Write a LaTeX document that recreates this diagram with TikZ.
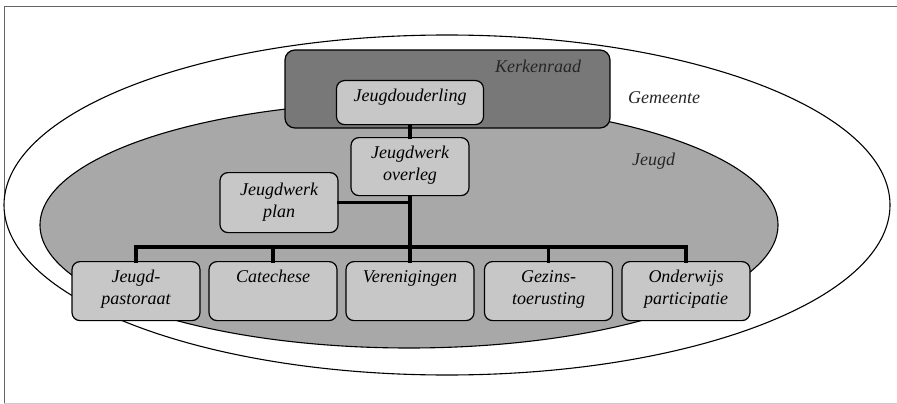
\documentclass[tikz,border=0pt]{standalone}
\usepackage{fontspec}
\setmainfont{Liberation Serif}
\definecolor{grisfonce}{gray}{0.47}
\definecolor{grismoyen}{gray}{0.66}
\definecolor{grisclair}{gray}{0.78}
\begin{document}
\begin{tikzpicture}[x=1pt,y=-1pt]
	\tikzstyle{boite}=[draw,line width=1.2pt,rounded corners=8pt,fill=grisclair,inner sep=0pt,align=center,anchor=north,font=\itshape\fontsize{18}{21.5}\selectfont,text height=21pt]
	\tikzstyle{trait}=[line width=3.2pt,line cap=rect]
	\tikzstyle{etiquette}=[font=\itshape\fontsize{18}{21}\selectfont,anchor=base west,inner sep=0pt,text=black!85]
	\def\LargeurBoite{128pt}
	\def\HautBus{247}
	\def\HautBas{261}
	\useasboundingbox (0,0) rectangle (897,404);
	\draw[gray!80!black] (897,6) -- (4,6) -- (4,403);
	\draw[gray!40] (4,403) -- (897,403);
	% ellipses
	\draw[line width=1.1pt,fill=white] (447,205) ellipse [x radius=443,y radius=170];
	\draw[line width=1.1pt,fill=grismoyen] (409,225) ellipse [x radius=369,y radius=123];
	\node[etiquette] (gemeente) at (628,103) {Gemeente};
	\node[etiquette] (jeugd) at (632,165) {Jeugd};
	% kerkenraad
	\node[draw,line width=1.2pt,rounded corners=10pt,fill=grisfonce,minimum width=325pt,minimum height=78pt] (kerk) at (447.5,89) {};
	\node[etiquette] (kerklabel) at (495,73) {Kerkenraad};
	% boites
	\node[boite,text width=147pt,text depth=23pt] (ouderling) at (410,80) {Jeugdouderling};
	\node[boite,text width=118pt,text depth=37pt] (overleg) at (410,137) {Jeugdwerk\\overleg};
	\node[boite,text width=118pt,text depth=37pt,text height=23pt] (plan) at (279,172) {Jeugdwerk\\plan};
	\node[boite,text width=\LargeurBoite,text depth=38pt] (pastoraat) at (136,\HautBas) {Jeugd-\\pastoraat};
	\node[boite,text width=\LargeurBoite,text depth=38pt] (catechese) at (273,\HautBas) {Catechese};
	\node[boite,text width=\LargeurBoite,text depth=38pt] (verenigingen) at (410,\HautBas) {Verenigingen};
	\node[boite,text width=\LargeurBoite,text depth=38pt] (gezins) at (548.5,\HautBas) {Gezins-\\toerusting};
	\node[boite,text width=\LargeurBoite,text depth=38pt] (onderwijs) at (686,\HautBas) {Onderwijs\\participatie};
	% liens
	\coordinate (bus) at (410,\HautBus);
	\draw[trait] (ouderling) -- (overleg);
	\draw[trait] (overleg) -- (bus);
	\draw[trait] (plan.east) -- (plan.east -| overleg.south);
	\foreach \b in {pastoraat,catechese,verenigingen,gezins,onderwijs}
		\draw[trait] (bus) -| (\b.north);
\end{tikzpicture}
\end{document}
